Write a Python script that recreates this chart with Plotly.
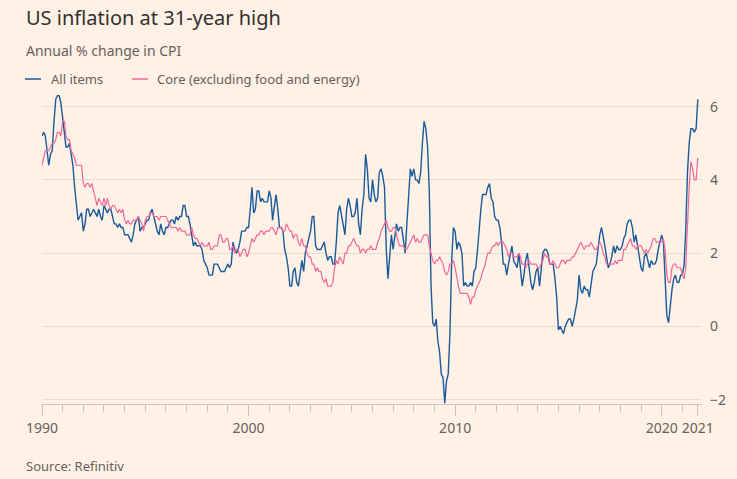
import pandas as pd
import plotly.graph_objects as go

# Monthly dates, Jan 1990 - Oct 2021
dates = pd.date_range("1990-01-01", "2021-10-01", freq="MS")

# Annual % change in CPI, all items
all_items = [
    5.2, 5.3, 5.2, 4.7, 4.4, 4.7, 4.8, 5.6, 6.2, 6.3, 6.3, 6.1,   # 1990
    5.7, 5.3, 4.9, 4.9, 5.0, 4.7, 4.4, 3.8, 3.4, 2.9, 3.0, 3.1,   # 1991
    2.6, 2.8, 3.2, 3.2, 3.0, 3.1, 3.2, 3.1, 3.0, 3.2, 3.0, 2.9,   # 1992
    3.3, 3.2, 3.1, 3.2, 3.2, 3.0, 2.8, 2.8, 2.7, 2.8, 2.7, 2.7,   # 1993
    2.5, 2.5, 2.5, 2.4, 2.3, 2.5, 2.8, 2.9, 3.0, 2.6, 2.7, 2.7,   # 1994
    2.8, 2.9, 2.9, 3.1, 3.2, 3.0, 2.8, 2.6, 2.5, 2.8, 2.6, 2.5,   # 1995
    2.7, 2.7, 2.8, 2.9, 2.9, 2.8, 3.0, 2.9, 3.0, 3.0, 3.3, 3.3,   # 1996
    3.0, 3.0, 2.8, 2.5, 2.2, 2.3, 2.2, 2.2, 2.2, 2.1, 1.8, 1.7,   # 1997
    1.6, 1.4, 1.4, 1.4, 1.7, 1.7, 1.7, 1.6, 1.5, 1.5, 1.5, 1.6,   # 1998
    1.7, 1.6, 1.7, 2.3, 2.1, 2.0, 2.1, 2.3, 2.6, 2.6, 2.6, 2.7,   # 1999
    2.7, 3.2, 3.8, 3.1, 3.2, 3.7, 3.7, 3.4, 3.5, 3.4, 3.4, 3.4,   # 2000
    3.7, 3.5, 2.9, 3.3, 3.6, 3.2, 2.7, 2.7, 2.6, 2.1, 1.9, 1.6,   # 2001
    1.1, 1.1, 1.5, 1.6, 1.2, 1.1, 1.5, 1.8, 1.5, 2.0, 2.2, 2.4,   # 2002
    2.6, 3.0, 3.0, 2.2, 2.1, 2.1, 2.1, 2.2, 2.3, 2.0, 1.8, 1.9,   # 2003
    1.9, 1.7, 1.7, 2.3, 3.1, 3.3, 3.0, 2.7, 2.5, 3.2, 3.5, 3.3,   # 2004
    3.0, 3.0, 3.1, 3.5, 2.8, 2.5, 3.2, 3.6, 4.7, 4.3, 3.5, 3.4,   # 2005
    4.0, 3.6, 3.4, 3.5, 4.2, 4.3, 4.1, 3.8, 2.1, 1.3, 2.0, 2.5,   # 2006
    2.1, 2.4, 2.8, 2.6, 2.7, 2.7, 2.4, 2.0, 2.8, 3.5, 4.3, 4.1,   # 2007
    4.3, 4.0, 4.0, 3.9, 4.2, 5.0, 5.6, 5.4, 4.9, 3.7, 1.1, 0.1,   # 2008
    0.0, 0.2, -0.4, -0.7, -1.3, -1.4, -2.1, -1.5, -1.3, -0.2, 1.8, 2.7,  # 2009
    2.6, 2.1, 2.3, 2.2, 2.0, 1.1, 1.2, 1.1, 1.1, 1.2, 1.1, 1.5,   # 2010
    1.6, 2.1, 2.7, 3.2, 3.6, 3.6, 3.6, 3.8, 3.9, 3.5, 3.4, 3.0,   # 2011
    2.9, 2.9, 2.7, 2.3, 1.7, 1.7, 1.4, 1.7, 2.0, 2.2, 1.8, 1.7,   # 2012
    1.6, 2.0, 1.5, 1.1, 1.4, 1.8, 2.0, 1.5, 1.2, 1.0, 1.2, 1.5,   # 2013
    1.6, 1.1, 1.5, 2.0, 2.1, 2.1, 2.0, 1.7, 1.7, 1.7, 1.3, 0.8,   # 2014
    -0.1, 0.0, -0.1, -0.2, 0.0, 0.1, 0.2, 0.2, 0.0, 0.2, 0.5, 0.7,  # 2015
    1.4, 1.0, 0.9, 1.1, 1.0, 1.0, 0.8, 1.1, 1.5, 1.6, 1.7, 2.1,   # 2016
    2.5, 2.7, 2.4, 2.2, 1.9, 1.6, 1.7, 1.9, 2.2, 2.0, 2.2, 2.1,   # 2017
    2.1, 2.2, 2.4, 2.5, 2.8, 2.9, 2.9, 2.7, 2.3, 2.5, 2.2, 1.9,   # 2018
    1.6, 1.5, 1.9, 2.0, 1.8, 1.6, 1.8, 1.7, 1.7, 1.8, 2.1, 2.3,   # 2019
    2.5, 2.3, 1.5, 0.3, 0.1, 0.6, 1.0, 1.3, 1.4, 1.2, 1.2, 1.4,   # 2020
    1.4, 1.7, 2.6, 4.2, 5.0, 5.4, 5.4, 5.3, 5.4, 6.2,             # 2021
]

# Annual % change in core CPI (excluding food and energy)
core = [
    4.4, 4.6, 4.8, 4.8, 4.8, 4.9, 5.0, 5.0, 5.1, 5.3, 5.3, 5.2,   # 1990
    5.6, 5.6, 5.2, 5.1, 5.1, 4.8, 4.7, 4.6, 4.4, 4.4, 4.4, 4.4,   # 1991
    3.9, 3.8, 3.9, 3.9, 3.8, 3.9, 3.7, 3.5, 3.3, 3.5, 3.4, 3.3,   # 1992
    3.5, 3.3, 3.5, 3.3, 3.2, 3.3, 3.3, 3.2, 3.1, 3.2, 3.1, 3.2,   # 1993
    2.9, 2.8, 2.9, 2.8, 2.8, 2.9, 2.9, 2.9, 3.0, 2.9, 2.8, 2.6,   # 1994
    2.9, 3.0, 3.0, 3.1, 3.1, 3.0, 3.0, 3.0, 2.9, 3.0, 3.0, 3.0,   # 1995
    3.0, 2.9, 2.8, 2.7, 2.7, 2.7, 2.7, 2.6, 2.7, 2.6, 2.6, 2.6,   # 1996
    2.5, 2.5, 2.5, 2.7, 2.5, 2.4, 2.4, 2.3, 2.2, 2.3, 2.2, 2.2,   # 1997
    2.2, 2.3, 2.1, 2.1, 2.2, 2.2, 2.2, 2.5, 2.5, 2.3, 2.3, 2.4,   # 1998
    2.4, 2.1, 2.1, 2.2, 2.0, 2.1, 2.1, 1.9, 2.0, 2.1, 2.1, 1.9,   # 1999
    2.0, 2.2, 2.4, 2.3, 2.4, 2.5, 2.5, 2.6, 2.6, 2.5, 2.6, 2.6,   # 2000
    2.6, 2.7, 2.7, 2.6, 2.5, 2.7, 2.7, 2.7, 2.6, 2.6, 2.8, 2.7,   # 2001
    2.6, 2.6, 2.4, 2.5, 2.5, 2.3, 2.2, 2.4, 2.2, 2.2, 2.0, 1.9,   # 2002
    1.9, 1.7, 1.7, 1.5, 1.6, 1.5, 1.5, 1.3, 1.2, 1.3, 1.1, 1.1,   # 2003
    1.1, 1.2, 1.6, 1.8, 1.7, 1.9, 1.8, 1.7, 2.0, 2.0, 2.2, 2.2,   # 2004
    2.3, 2.4, 2.3, 2.2, 2.2, 2.0, 2.1, 2.1, 2.0, 2.1, 2.1, 2.2,   # 2005
    2.1, 2.1, 2.1, 2.3, 2.4, 2.6, 2.7, 2.8, 2.9, 2.7, 2.6, 2.6,   # 2006
    2.7, 2.7, 2.5, 2.3, 2.2, 2.2, 2.2, 2.1, 2.1, 2.2, 2.3, 2.4,   # 2007
    2.5, 2.3, 2.4, 2.3, 2.3, 2.4, 2.5, 2.5, 2.5, 2.2, 2.0, 1.8,   # 2008
    1.7, 1.8, 1.8, 1.9, 1.8, 1.7, 1.5, 1.4, 1.5, 1.7, 1.7, 1.8,   # 2009
    1.6, 1.3, 1.1, 0.9, 0.9, 0.9, 0.9, 0.9, 0.8, 0.6, 0.8, 0.8,   # 2010
    1.0, 1.1, 1.2, 1.3, 1.5, 1.6, 1.8, 2.0, 2.0, 2.1, 2.2, 2.2,   # 2011
    2.3, 2.2, 2.3, 2.3, 2.3, 2.2, 2.1, 1.9, 2.0, 2.0, 1.9, 1.9,   # 2012
    1.9, 2.0, 1.9, 1.7, 1.7, 1.6, 1.7, 1.8, 1.7, 1.7, 1.7, 1.7,   # 2013
    1.6, 1.6, 1.7, 1.8, 2.0, 1.9, 1.9, 1.7, 1.7, 1.8, 1.7, 1.6,   # 2014
    1.6, 1.7, 1.8, 1.8, 1.7, 1.8, 1.8, 1.8, 1.9, 1.9, 2.0, 2.1,   # 2015
    2.2, 2.3, 2.2, 2.1, 2.2, 2.2, 2.2, 2.3, 2.2, 2.1, 2.1, 2.2,   # 2016
    2.3, 2.2, 2.0, 1.9, 1.7, 1.7, 1.7, 1.7, 1.7, 1.8, 1.7, 1.8,   # 2017
    1.8, 1.8, 2.1, 2.1, 2.2, 2.3, 2.4, 2.2, 2.2, 2.1, 2.2, 2.2,   # 2018
    2.2, 2.1, 2.0, 2.1, 2.0, 2.1, 2.2, 2.4, 2.4, 2.3, 2.3, 2.3,   # 2019
    2.3, 2.4, 2.1, 1.4, 1.2, 1.2, 1.6, 1.7, 1.7, 1.6, 1.6, 1.6,   # 2020
    1.4, 1.3, 1.6, 3.0, 3.8, 4.5, 4.3, 4.0, 4.0, 4.6,             # 2021
]

series_names = ["All items", "Core (excluding food and energy)"]
series_colors = ["#1a5a9b", "#f0699a"]
x_tick_vals = ["1990-01-01", "2000-01-01", "2010-01-01", "2020-01-01", "2021-10-01"]
x_tick_text = ["1990", "2000", "2010", "2020", "2021"]
y_tick_vals = [-2, 0, 2, 4, 6]

BG = "#fff1e5"
GRID = "#e9dcd1"
AXIS = "#cfc3b8"
TEXT = "#66605c"
FONT = "Noto Sans"

fig = go.Figure()
fig.add_trace(go.Scatter(x=dates, y=all_items, mode="lines", name=series_names[0],
                         line=dict(color=series_colors[0], width=1.4)))
fig.add_trace(go.Scatter(x=dates, y=core, mode="lines", name=series_names[1],
                         line=dict(color=series_colors[1], width=1.2)))

# pixel helpers for paper coordinates (plot area: x 42..702, y 92..404)
L, R, T, B = 42, 35, 92, 75
W, H = 737, 479
pw, ph = W - L - R, H - T - B

def px(xp):
    return (xp - L) / pw

def py(yp):
    return (H - B - yp) / ph

# Legend key (swatches + labels) placed above the plot like the original
legend_items = [(25, 41, 50), (132, 148, 156)]
shapes = []
annotations = []
for (x0, x1, xt), name, color in zip(legend_items, series_names, series_colors):
    shapes.append(dict(type="line", xref="paper", yref="paper",
                       x0=px(x0), x1=px(x1), y0=py(79), y1=py(79),
                       line=dict(color=color, width=1.5)))
    annotations.append(dict(text=name, xref="paper", yref="paper",
                            x=px(xt - 1), y=py(79), xanchor="left", yanchor="middle",
                            showarrow=False, font=dict(size=13, color=TEXT, family=FONT)))

annotations += [
    dict(text="US inflation at 31-year high", xref="paper", yref="paper",
         x=px(24), y=py(18), xanchor="left", yanchor="middle", showarrow=False,
         font=dict(size=20, color="#33302e", family=FONT)),
    dict(text="Annual % change in CPI", xref="paper", yref="paper",
         x=px(24), y=py(50), xanchor="left", yanchor="middle", showarrow=False,
         font=dict(size=14, color=TEXT, family=FONT)),
    dict(text="Source: Refinitiv", xref="paper", yref="paper",
         x=px(24), y=py(466), xanchor="left", yanchor="middle", showarrow=False,
         font=dict(size=13, color=TEXT, family=FONT)),
]

fig.update_layout(
    width=W, height=H,
    margin=dict(l=L, r=R, t=T, b=B),
    paper_bgcolor=BG, plot_bgcolor=BG,
    font=dict(family=FONT, color=TEXT, size=13),
    showlegend=False,
    hovermode=False,
    xaxis=dict(
        type="date",
        range=["1990-01-01", "2021-12-14"],
        tickmode="array", tickvals=x_tick_vals, ticktext=x_tick_text,
        ticks="outside", ticklen=11, tickcolor=AXIS, tickwidth=1,
        showgrid=False, zeroline=False,
        showline=True, linecolor=AXIS, linewidth=1,
        tickfont=dict(size=14, color=TEXT),
        minor=dict(dtick="M12", tick0="1990-01-01", ticks="outside", ticklen=7,
                   tickcolor=AXIS, tickwidth=1, showgrid=False),
    ),
    yaxis=dict(
        side="right",
        range=[-2.12, 6.4],
        tickmode="array", tickvals=y_tick_vals,
        showgrid=True, gridcolor=GRID, gridwidth=1,
        zeroline=False, showline=False, ticks="",
        ticklabelstandoff=7,
        tickfont=dict(size=14, color=TEXT),
    ),
    shapes=shapes,
    annotations=annotations,
)

fig.write_html("out.html", config={"displayModeBar": False},
               post_script="document.body.style.margin='0';")
